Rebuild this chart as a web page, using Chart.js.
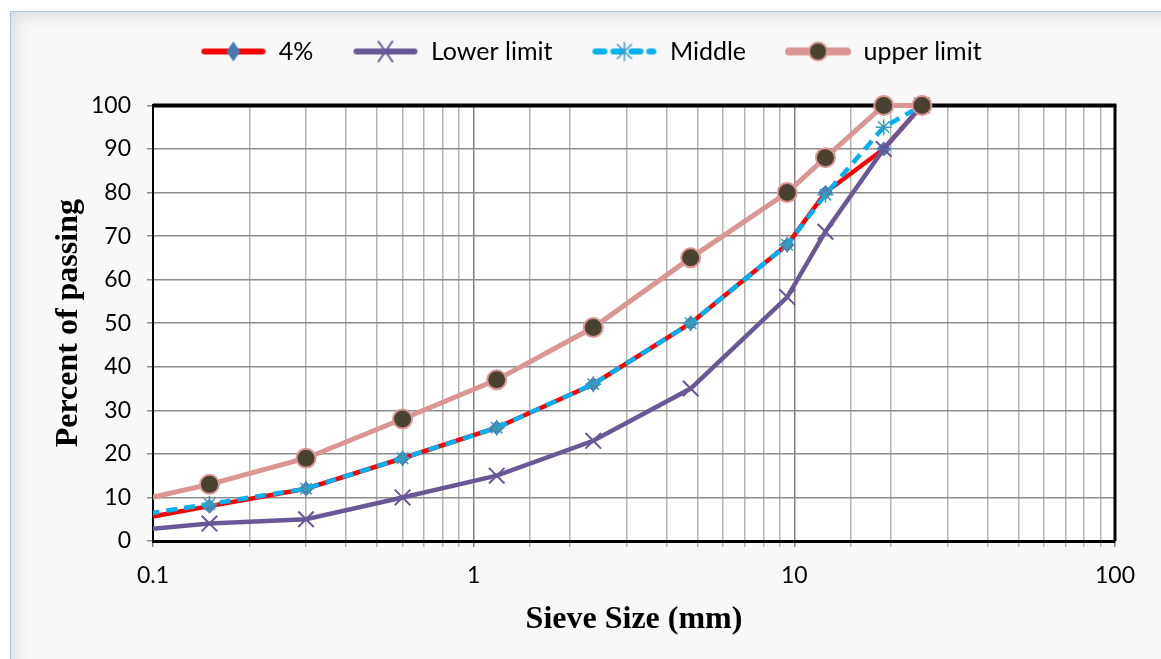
<!DOCTYPE html>
<html>
<head>
<meta charset="utf-8">
<script src="https://cdn.jsdelivr.net/npm/chart.js@4.4.0/dist/chart.umd.min.js"></script>
<style>
    html, body { margin: 0; padding: 0; background: #ffffff; }
    #frame {
        position: absolute; left: 10px; top: 11px; width: 1160px; height: 660px;
        border-top: 1px solid #a9c2ea; border-left: 1px solid #a9c2ea;
        background: #f8f8f8;
        box-shadow: inset 14px 14px 18px -12px #d8d8d8;
    }
    #wrap { position: absolute; left: 0; top: 0; width: 1161px; height: 659px; }
</style>
</head>
<body>
<div id="frame"></div>
<div id="wrap"><canvas id="chart"></canvas></div>
<script>
// Sieve sizes (mm)
const sieveSizes = [0.075, 0.15, 0.3, 0.6, 1.18, 2.36, 4.75, 9.5, 12.5, 19, 25];

// Percent passing for each series
const fourPercent = [4, 8, 12, 19, 26, 36, 50, 68, 80, 90, 100];
const lowerLimit  = [2, 4, 5, 10, 15, 23, 35, 56, 71, 90, 100];
const middle      = [5, 8.5, 12, 19, 26, 36, 50, 68, 79.5, 95, 100];
const upperLimit  = [8, 13, 19, 28, 37, 49, 65, 80, 88, 100, 100];

const seriesNames = ['4%', 'Lower limit', 'Middle', 'upper limit'];

// x tick labels shown (only the decades)
const xTickLabels = [0.1, 1, 10, 100];

// Turn a series into {x, y} points
function toPoints(values) {
    return sieveSizes.map((s, i) => ({ x: s, y: values[i] }));
}

// Small canvas icon for the legend: line sample with the marker in the middle
function legendIcon(lineColor, lineWidth, dash, drawMarker) {
    let c = document.createElement('canvas');
    c.width = 66;
    c.height = 26;
    let g = c.getContext('2d');
    g.strokeStyle = lineColor;
    g.lineWidth = lineWidth;
    g.lineCap = 'round';
    g.setLineDash(dash);
    g.beginPath();
    g.moveTo(4, 13);
    g.lineTo(62, 13);
    g.stroke();
    g.setLineDash([]);
    drawMarker(g, 33, 13);
    return c;
}

const iconFour = legendIcon('#ff0000', 6, [], (g, x, y) => {
    g.fillStyle = '#4a7ab4';
    g.beginPath();
    g.moveTo(x, y - 10); g.lineTo(x + 7, y); g.lineTo(x, y + 10); g.lineTo(x - 7, y);
    g.closePath();
    g.fill();
});
const iconLower = legendIcon('#6a5796', 6, [], (g, x, y) => {
    g.strokeStyle = '#6a5796';
    g.lineWidth = 2;
    g.beginPath();
    g.moveTo(x - 7, y - 10); g.lineTo(x + 7, y + 10);
    g.moveTo(x + 7, y - 10); g.lineTo(x - 7, y + 10);
    g.stroke();
});
const iconMiddle = legendIcon('#00b0f0', 6, [9, 9], (g, x, y) => {
    g.strokeStyle = '#3c9cb8';
    g.lineWidth = 1.5;
    g.beginPath();
    g.moveTo(x, y - 9); g.lineTo(x, y + 9);
    g.moveTo(x - 7, y - 7); g.lineTo(x + 7, y + 7);
    g.moveTo(x + 7, y - 7); g.lineTo(x - 7, y + 7);
    g.stroke();
});
const iconUpper = legendIcon('#d99694', 8, [], (g, x, y) => {
    g.fillStyle = '#4a4230';
    g.strokeStyle = '#d99694';
    g.lineWidth = 2;
    g.beginPath();
    g.arc(x, y, 9, 0, Math.PI * 2);
    g.fill();
    g.stroke();
});

// Plot area background plus the heavy top and right frame lines
const plotFrame = {
    id: 'plotFrame',
    beforeDraw(chart) {
        let a = chart.chartArea;
        let ctx = chart.ctx;
        ctx.save();
        ctx.fillStyle = '#ffffff';
        ctx.fillRect(a.left, a.top, a.right - a.left, a.bottom - a.top);
        ctx.restore();
    },
    beforeDatasetsDraw(chart) {
        let a = chart.chartArea;
        let ctx = chart.ctx;
        ctx.save();
        ctx.strokeStyle = '#000000';
        ctx.lineWidth = 4;
        ctx.beginPath();
        ctx.moveTo(a.left, a.top);
        ctx.lineTo(a.right + 1.5, a.top);
        ctx.stroke();
        ctx.lineWidth = 3;
        ctx.beginPath();
        ctx.moveTo(a.right, a.top);
        ctx.lineTo(a.right, a.bottom);
        ctx.stroke();
        ctx.restore();
    }
};

const clipBox = { left: 0, top: 15, right: 15, bottom: 15 };

let ctx = document.getElementById('chart');

let gradationChart = new Chart(ctx, {
    type: 'line',
    data: {
        datasets: [
            {
                label: seriesNames[0],
                data: toPoints(fourPercent),
                borderColor: '#ff0000',
                borderWidth: 4.5,
                pointStyle: 'rectRot',
                pointRadius: 7,
                pointBackgroundColor: '#4a7ab4',
                pointBorderColor: '#4a7ab4',
                pointBorderWidth: 1,
                order: 4,
                clip: clipBox
            },
            {
                label: seriesNames[1],
                data: toPoints(lowerLimit),
                borderColor: '#6a5796',
                borderWidth: 4.5,
                pointStyle: 'crossRot',
                pointRadius: 11,
                pointBorderColor: '#6a5796',
                pointBorderWidth: 2,
                order: 3,
                clip: clipBox
            },
            {
                label: seriesNames[2],
                data: toPoints(middle),
                borderColor: '#00b0f0',
                borderWidth: 4.5,
                borderDash: [11, 7],
                pointStyle: 'star',
                pointRadius: 8,
                pointBorderColor: '#3c9cb8',
                pointBorderWidth: 1.5,
                order: 2,
                clip: clipBox
            },
            {
                label: seriesNames[3],
                data: toPoints(upperLimit),
                borderColor: '#d99694',
                borderWidth: 5,
                pointStyle: 'circle',
                pointRadius: 9.5,
                pointBackgroundColor: '#4a4230',
                pointBorderColor: '#d99694',
                pointBorderWidth: 2,
                order: 1,
                clip: clipBox
            }
        ]
    },
    options: {
        responsive: true,
        maintainAspectRatio: false,
        animation: false,
        layout: {
            // left padding pushes the legend to the right like the original
            padding: { top: 0, right: 46, bottom: 0, left: 67 }
        },
        plugins: {
            tooltip: { enabled: false },
            // Blank spacer between the legend and the plot area
            subtitle: {
                display: true,
                text: ' ',
                weight: 500,
                font: { size: 2 },
                padding: { top: 15, bottom: 14 }
            },
            legend: {
                position: 'top',
                labels: {
                    usePointStyle: true,
                    pointStyleWidth: 66,
                    padding: 39,
                    color: '#000000',
                    font: { family: 'Lato', size: 25 },
                    sort: (a, b) => a.datasetIndex - b.datasetIndex,
                    generateLabels: chart => {
                        let icons = [iconFour, iconLower, iconMiddle, iconUpper];
                        return seriesNames.map((name, i) => ({
                            text: name,
                            datasetIndex: i,
                            pointStyle: icons[i],
                            fontColor: '#000000',
                            lineWidth: 0,
                            hidden: false
                        }));
                    }
                }
            }
        },
        scales: {
            x: {
                type: 'logarithmic',
                min: 0.1,
                max: 100,
                afterFit: scale => { scale.height = 118; },
                border: { color: '#000000', width: 3 },
                grid: {
                    color: c => {
                        let v = c.tick ? c.tick.value : 0;
                        let e = Math.log10(v);
                        return Math.abs(e - Math.round(e)) < 1e-6 ? '#808080' : '#b4b4b4';
                    },
                    lineWidth: 1.5,
                    tickLength: 6
                },
                ticks: {
                    autoSkip: false,
                    maxRotation: 0,
                    padding: 15,
                    color: '#000000',
                    font: { family: 'Lato', size: 23 },
                    callback: value => xTickLabels.some(t => Math.abs(t - value) < 1e-9) ? String(value) : ''
                },
                title: {
                    display: true,
                    text: 'Sieve Size (mm)',
                    color: '#000000',
                    font: { family: 'Liberation Serif', size: 32, weight: 'bold' },
                    padding: { top: 0, bottom: 20 }
                }
            },
            y: {
                min: 0,
                max: 100,
                afterFit: scale => { scale.width = 86; },
                border: { color: '#000000', width: 2 },
                grid: {
                    color: '#8c8c8c',
                    lineWidth: 1.5,
                    tickLength: 6
                },
                ticks: {
                    stepSize: 10,
                    padding: 16,
                    color: '#000000',
                    font: { family: 'Lato', size: 23 }
                },
                title: {
                    display: true,
                    text: 'Percent of passing',
                    color: '#000000',
                    font: { family: 'Liberation Serif', size: 32, weight: 'bold' },
                    padding: { top: -17, bottom: 0 }
                }
            }
        }
    },
    plugins: [plotFrame]
});
</script>
</body>
</html>
